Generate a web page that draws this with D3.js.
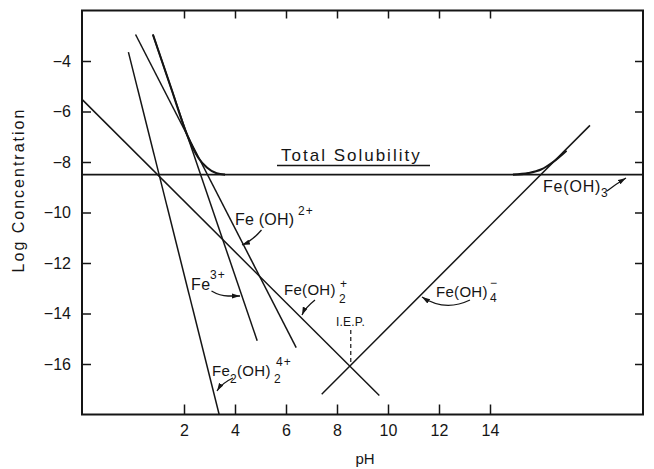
<!DOCTYPE html>
<html><head><meta charset="utf-8">
<script src="https://cdn.jsdelivr.net/npm/d3@7"></script>
<style>
html,body{margin:0;padding:0;background:#fff;}
svg{display:block;}
text{font-family:"Liberation Sans",Arial,sans-serif;fill:#151515;}
</style></head><body>
<svg id="chart" width="654" height="469"></svg>
<script>
// Axis ticks
const pHTicks = [2, 4, 6, 8, 10, 12, 14];
const logTicks = [-4, -6, -8, -10, -12, -14, -16];

// Species lines, end points as [pH, log concentration]
const fe3     = [[0.78, -2.95], [4.87, -15.08]];   // Fe3+
const feOH    = [[0.10, -2.95], [6.40, -15.35]];   // Fe(OH)2+
const feOH2   = [[-2.0, -5.52], [9.66, -17.25]];   // Fe(OH)2 +
const fe2OH2  = [[-0.18, -3.65], [3.38, -18.0]];   // Fe2(OH)2 4+
const feOH3   = [[-2.0, -8.5], [20.0, -8.5]];      // Fe(OH)3
const feOH4   = [[7.40, -17.20], [17.92, -6.55]];  // Fe(OH)4 -

// Total solubility envelope: acid arm and alkaline arm
const totalAcid = [[0.78, -2.95], [1.5, -5.09], [2.12, -6.92], [2.56, -7.83],
                   [2.91, -8.23], [3.28, -8.45], [3.61, -8.5]];
const totalBase = [[14.9, -8.5], [15.5, -8.44], [16.0, -8.3], [16.5, -7.98], [17.0, -7.55]];

// Isoelectric point
const iepPH = 8.54;
const iepSpan = [-14.65, -15.92];

const svg = d3.select("#chart");
const x = d3.scaleLinear().domain([-2, 20]).range([82, 643]);
const y = d3.scaleLinear().domain([-18, -2]).range([414.5, 10.5]);

function styleAxis(g, fs) {
  g.select(".domain").remove();
  g.selectAll(".tick line").attr("stroke", "#151515").attr("stroke-width", 1.5);
  g.attr("font-family", null).attr("font-size", null);
  g.selectAll("text").attr("font-size", fs).attr("fill", "#151515");
}

// Bottom axis with inward ticks
svg.append("g").attr("transform", "translate(0,414.5)")
  .call(d3.axisBottom(x).tickValues(pHTicks).tickSize(-10).tickPadding(10).tickFormat(d3.format("d")))
  .call(g => styleAxis(g, 16));
// Top axis (ticks only)
svg.append("g").attr("transform", "translate(0,10.5)")
  .call(d3.axisTop(x).tickValues(pHTicks).tickSize(-8).tickFormat(""))
  .call(g => styleAxis(g, 16));
// Left axis
svg.append("g").attr("transform", "translate(82,0)")
  .call(d3.axisLeft(y).tickValues(logTicks).tickSize(-9).tickPadding(11).tickFormat(d3.format("d")))
  .call(g => styleAxis(g, 16));
// Right axis (ticks only)
svg.append("g").attr("transform", "translate(643,0)")
  .call(d3.axisRight(y).tickValues(logTicks).tickSize(-8).tickFormat(""))
  .call(g => styleAxis(g, 16));

// Frame
svg.append("rect").attr("x", x(-2)).attr("y", y(-2))
  .attr("width", x(20) - x(-2)).attr("height", y(-18) - y(-2))
  .attr("fill", "none").attr("stroke", "#151515").attr("stroke-width", 2);

// Axis titles
svg.append("text").attr("x", 365).attr("y", 464).attr("text-anchor", "middle")
  .attr("font-size", 15).text("pH");
svg.append("text").attr("transform", "translate(24,190) rotate(-90)")
  .attr("text-anchor", "middle").attr("font-size", 16).attr("letter-spacing", 2)
  .text("Log Concentration");

const line = d3.line().x(d => x(d[0])).y(d => y(d[1]));
const plot = svg.append("g").attr("fill", "none").attr("stroke", "#151515");

[fe3, feOH, feOH2, fe2OH2, feOH4].forEach(s =>
  plot.append("path").attr("d", line(s)).attr("stroke-width", 1.5));
plot.append("path").attr("d", line(feOH3)).attr("stroke-width", 1.9);

const curve = d3.line().x(d => x(d[0])).y(d => y(d[1])).curve(d3.curveMonotoneX);
plot.append("path").attr("d", curve(totalAcid)).attr("stroke-width", 2.1);
plot.append("path").attr("d", curve(totalBase)).attr("stroke-width", 2.1);

// I.E.P. marker
plot.append("line").attr("x1", x(iepPH)).attr("x2", x(iepPH))
  .attr("y1", y(iepSpan[0])).attr("y2", y(iepSpan[1]))
  .attr("stroke-width", 1.2).attr("stroke-dasharray", "4,3");

// Arrowhead for label leaders
svg.append("defs").append("marker").attr("id", "arr")
  .attr("markerUnits", "userSpaceOnUse").attr("markerWidth", 9).attr("markerHeight", 6)
  .attr("refX", 8).attr("refY", 3).attr("orient", "auto")
  .append("path").attr("d", "M0,0.5 L8,3 L0,5.5 Z").attr("fill", "#151515");

const leaders = [
  "M261.5,230 Q252,241 242,245",          // Fe(OH)2+
  "M211.5,291 Q220,296 228,296 L240,296",  // Fe3+
  "M315,300 Q305,308 302,315",             // Fe(OH)2 +
  "M233,378 Q222,383 217,391",             // Fe2(OH)2 4+
  "M470,300 Q445,312 422,297",             // Fe(OH)4 -
  "M607,191 Q616,184 626,178"              // Fe(OH)3
];
leaders.forEach(d => plot.append("path").attr("d", d)
  .attr("stroke-width", 1.3).attr("marker-end", "url(#arr)"));

// Species labels
const lab = svg.append("g");
function t(xp, yp, s, fs, ls) {
  return lab.append("text").attr("x", xp).attr("y", yp).attr("font-size", fs)
    .attr("letter-spacing", ls || 0.4).text(s);
}
// Total solubility
t(281, 161, "Total Solubility", 17, 2);
svg.append("line").attr("x1", 277).attr("x2", 430).attr("y1", 165.5).attr("y2", 165.5)
  .attr("stroke", "#151515").attr("stroke-width", 1.6);
// Fe(OH)2+
t(235, 225, "Fe (OH)", 16, 0.2);
t(298, 215, "2+", 12, 1);
// Fe3+
t(191, 290, "Fe", 16);
t(210, 279, "3+", 12, 1);
// Fe(OH)2 +
t(284, 295, "Fe(OH)", 15, 0.3);
t(339, 303, "2", 12);
t(340, 288, "+", 12);
// I.E.P.
t(336, 326, "I.E.P.", 12, 0.2);
// Fe2(OH)2 4+
t(212, 376, "Fe", 15);
t(230, 383, "2", 12);
t(237, 376, "(OH)", 15, 0.3);
t(274, 383, "2", 12);
t(276, 366, "4+", 12, 1);
// Fe(OH)4 -
t(436, 297, "Fe(OH)", 15, 0.3);
t(490, 302, "4", 12);
t(490, 287, "\u2212", 12);
// Fe(OH)3
t(543, 192, "Fe(OH)", 16, 0.8);
t(601, 197, "3", 12);
</script>
</body></html>
